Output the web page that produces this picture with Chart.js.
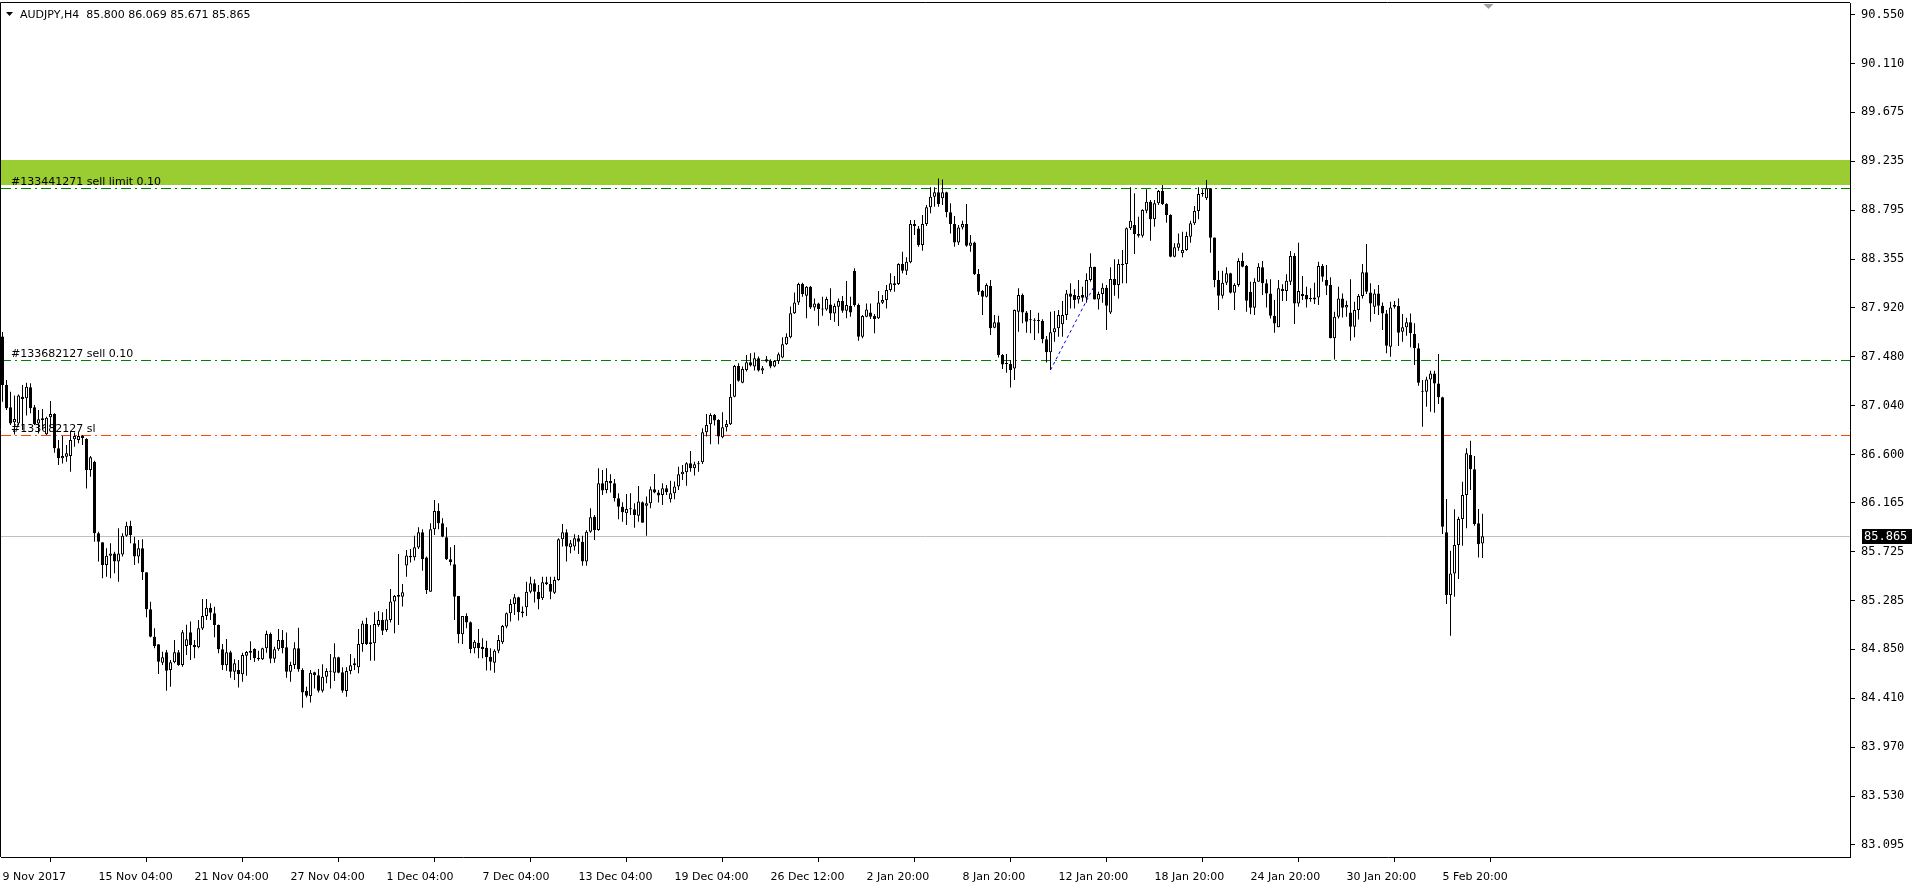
<!DOCTYPE html>
<html>
<head>
<meta charset="utf-8">
<title>AUDJPY,H4</title>
<script src="https://cdn.jsdelivr.net/npm/chart.js@4.4.1/dist/chart.umd.min.js"></script>
<style>
    html, body { margin: 0; padding: 0; background: #ffffff; overflow: hidden; }
    canvas { display: block; }
</style>
</head>
<body>
<canvas id="myCandleChart" width="1920" height="890"></canvas>
<script>
// Title line of the chart window
var symbolTitle = 'AUDJPY,H4  85.800 86.069 85.671 85.865';

// Time axis labels, one every 24 bars (H4)
var xTickLabels = ['9 Nov 2017', '15 Nov 04:00', '21 Nov 04:00', '27 Nov 04:00', '1 Dec 04:00', '7 Dec 04:00',
    '13 Dec 04:00', '19 Dec 04:00', '26 Dec 12:00', '2 Jan 20:00', '8 Jan 20:00', '12 Jan 20:00',
    '18 Jan 20:00', '24 Jan 20:00', '30 Jan 20:00', '5 Feb 20:00'];
var xTickStep = 24;

// Price axis labels
var yTickValues = [90.550, 90.110, 89.675, 89.235, 88.795, 88.355, 87.920, 87.480, 87.040,
    86.600, 86.165, 85.725, 85.285, 84.850, 84.410, 83.970, 83.530, 83.095];

// OHLC
var opens = [
    87.660, 87.225, 87.024, 86.890, 86.880, 87.120, 87.105, 87.204, 87.024, 86.880,
    86.925, 86.782, 86.934, 86.964, 86.656, 86.566, 86.581, 86.587, 86.737, 86.731,
    86.767, 86.740, 86.461, 86.536, 85.892, 85.811, 85.608, 85.691, 85.712, 85.638,
    85.703, 85.871, 85.961, 85.802, 85.683, 85.757, 85.542, 85.209, 84.964, 84.895,
    84.730, 84.823, 84.664, 84.733, 84.823, 84.709, 84.880, 85.003, 84.889, 84.868,
    85.038, 85.149, 85.224, 85.173, 85.068, 84.850, 84.706, 84.823, 84.649, 84.664,
    84.625, 84.793, 84.820, 84.853, 84.775, 84.760, 84.859, 84.988, 84.766, 84.850,
    84.933, 84.868, 84.649, 84.709, 84.859, 84.664, 84.475, 84.430, 84.643, 84.616,
    84.478, 84.604, 84.649, 84.640, 84.778, 84.643, 84.475, 84.655, 84.706, 84.688,
    84.898, 85.077, 84.913, 84.904, 85.068, 85.113, 85.023, 85.114, 85.279, 85.338,
    85.323, 85.602, 85.689, 85.677, 85.764, 85.901, 85.674, 85.368, 85.928, 86.093,
    85.982, 85.856, 85.659, 85.614, 85.329, 84.985, 85.150, 85.093, 84.859, 84.910,
    84.874, 84.865, 84.784, 84.730, 84.838, 84.913, 85.054, 85.174, 85.258, 85.317,
    85.189, 85.228, 85.368, 85.443, 85.368, 85.308, 85.452, 85.437, 85.359, 85.473,
    85.838, 85.901, 85.767, 85.773, 85.847, 85.817, 85.640, 85.907, 86.042, 85.922,
    86.341, 86.282, 86.362, 86.341, 86.207, 86.132, 86.072, 86.108, 86.108, 86.051,
    86.171, 86.141, 86.162, 86.288, 86.258, 86.237, 86.297, 86.198, 86.252, 86.312,
    86.422, 86.440, 86.521, 86.476, 86.521, 86.530, 86.800, 86.872, 86.956, 86.910,
    86.755, 86.845, 86.872, 87.120, 87.396, 87.246, 87.360, 87.429, 87.390, 87.465,
    87.354, 87.456, 87.441, 87.390, 87.441, 87.471, 87.590, 87.653, 87.869, 87.965,
    88.132, 88.027, 88.108, 87.922, 87.958, 87.913, 87.904, 87.949, 87.868, 87.928,
    87.979, 87.892, 87.934, 88.249, 87.943, 87.659, 87.839, 87.877, 87.845, 87.824,
    87.964, 87.988, 88.078, 88.138, 88.132, 88.312, 88.252, 88.327, 88.671, 88.632,
    88.482, 88.671, 88.821, 88.917, 88.956, 88.902, 88.956, 88.776, 88.671, 88.506,
    88.641, 88.671, 88.476, 88.506, 88.222, 88.069, 88.018, 88.114, 87.740, 87.788,
    87.494, 87.413, 87.413, 87.374, 87.883, 88.033, 87.877, 87.806, 87.803, 87.800,
    87.800, 87.635, 87.518, 87.698, 87.734, 87.770, 87.853, 88.048, 88.033, 87.994,
    88.033, 88.009, 88.168, 88.288, 87.994, 88.042, 88.099, 87.877, 88.177, 88.123,
    88.303, 88.312, 88.633, 88.662, 88.581, 88.566, 88.791, 88.872, 88.713, 88.857,
    88.968, 88.851, 88.752, 88.378, 88.459, 88.408, 88.438, 88.557, 88.677, 88.788,
    88.941, 88.902, 88.992, 88.551, 88.168, 88.027, 88.144, 88.228, 88.054, 88.123,
    88.339, 88.294, 88.063, 87.920, 88.153, 88.282, 88.138, 88.048, 87.847, 87.743,
    88.087, 88.069, 88.153, 88.384, 87.958, 88.042, 88.033, 87.997, 87.994, 88.012,
    88.294, 88.168, 88.123, 87.644, 87.839, 88.003, 87.922, 87.877, 87.749, 87.898,
    88.024, 88.237, 88.057, 87.928, 88.048, 87.937, 87.868, 87.569, 87.928, 87.934,
    87.704, 87.743, 87.788, 87.683, 87.554, 87.165, 87.165, 87.275, 87.329, 87.239,
    87.114, 85.901, 85.338, 85.532, 85.787, 86.020, 86.236, 86.596, 86.467, 85.982,
    85.800
];
var highs = [
    87.700, 87.270, 87.165, 87.130, 87.140, 87.225, 87.246, 87.240, 87.045, 87.000,
    87.009, 86.940, 87.081, 86.970, 86.730, 86.767, 86.686, 86.806, 86.797, 86.806,
    86.776, 86.746, 86.587, 86.545, 85.907, 85.811, 85.757, 85.802, 85.727, 85.937,
    85.892, 85.997, 86.006, 85.862, 85.832, 85.838, 85.542, 85.278, 85.039, 84.895,
    84.829, 84.844, 84.754, 84.934, 84.844, 85.024, 85.070, 85.099, 84.934, 85.114,
    85.302, 85.302, 85.263, 85.233, 85.074, 84.898, 84.942, 84.838, 84.760, 84.754,
    84.820, 84.835, 84.922, 84.859, 84.838, 84.865, 85.017, 85.000, 84.874, 85.032,
    85.023, 85.002, 84.739, 84.913, 85.044, 84.679, 84.514, 84.664, 84.649, 84.673,
    84.715, 84.679, 84.808, 84.904, 84.784, 84.688, 84.688, 84.808, 84.769, 85.032,
    85.107, 85.134, 85.068, 85.182, 85.194, 85.182, 85.212, 85.392, 85.338, 85.707,
    85.437, 85.743, 85.752, 85.871, 85.946, 85.928, 85.683, 85.982, 86.192, 86.162,
    86.027, 85.946, 85.767, 85.788, 85.329, 85.150, 85.174, 85.099, 84.934, 85.033,
    84.949, 84.928, 84.859, 84.850, 84.979, 85.069, 85.180, 85.300, 85.347, 85.323,
    85.234, 85.458, 85.503, 85.479, 85.428, 85.503, 85.503, 85.503, 85.503, 85.847,
    85.976, 85.928, 85.832, 85.883, 85.877, 85.870, 85.920, 86.117, 86.057, 86.476,
    86.461, 86.476, 86.422, 86.381, 86.252, 86.171, 86.246, 86.252, 86.162, 86.318,
    86.177, 86.222, 86.312, 86.425, 86.282, 86.341, 86.327, 86.365, 86.357, 86.491,
    86.506, 86.530, 86.632, 86.536, 86.542, 86.836, 86.965, 86.970, 86.965, 86.916,
    86.979, 86.910, 87.234, 87.405, 87.420, 87.390, 87.495, 87.510, 87.516, 87.480,
    87.396, 87.486, 87.456, 87.450, 87.516, 87.653, 87.689, 87.929, 88.055, 88.144,
    88.144, 88.114, 88.114, 88.003, 87.964, 88.018, 88.018, 88.093, 87.958, 88.003,
    88.024, 88.159, 88.018, 88.273, 87.958, 87.853, 87.958, 87.958, 87.863, 88.069,
    88.033, 88.123, 88.228, 88.204, 88.318, 88.423, 88.372, 88.707, 88.707, 88.653,
    88.752, 88.842, 89.001, 89.001, 89.081, 89.072, 88.962, 88.857, 88.743, 88.662,
    88.701, 88.851, 88.572, 88.512, 88.267, 88.078, 88.138, 88.168, 87.854, 87.848,
    87.503, 87.503, 87.449, 87.904, 88.093, 88.048, 87.889, 87.898, 87.824, 87.874,
    87.815, 87.665, 87.883, 87.889, 87.898, 87.979, 88.078, 88.138, 88.084, 88.168,
    88.108, 88.228, 88.408, 88.288, 88.063, 88.138, 88.123, 88.282, 88.354, 88.354,
    88.438, 88.641, 89.001, 88.947, 88.737, 88.803, 88.983, 88.887, 88.887, 88.977,
    89.021, 88.857, 88.758, 88.498, 88.587, 88.602, 88.602, 88.701, 88.833, 89.001,
    88.983, 89.066, 88.992, 88.551, 88.252, 88.252, 88.282, 88.234, 88.138, 88.363,
    88.414, 88.303, 88.153, 88.183, 88.318, 88.339, 88.174, 88.174, 87.988, 88.168,
    88.129, 88.219, 88.429, 88.408, 88.503, 88.204, 88.108, 88.093, 88.144, 88.333,
    88.312, 88.303, 88.192, 87.883, 88.108, 88.048, 87.982, 88.174, 87.973, 88.042,
    88.312, 88.491, 88.138, 88.084, 88.123, 87.967, 87.898, 87.973, 87.979, 88.003,
    87.862, 87.830, 87.868, 87.779, 87.599, 87.269, 87.299, 87.353, 87.353, 87.503,
    87.120, 86.200, 85.736, 86.108, 86.041, 86.356, 86.656, 86.724, 86.587, 86.110,
    86.069
];
var lows = [
    87.075, 87.000, 86.865, 86.780, 86.860, 86.820, 86.950, 86.970, 86.866, 86.790,
    86.820, 86.775, 86.850, 86.617, 86.506, 86.520, 86.536, 86.446, 86.671, 86.701,
    86.686, 86.296, 86.401, 85.817, 85.638, 85.488, 85.503, 85.488, 85.533, 85.458,
    85.683, 85.862, 85.802, 85.608, 85.623, 85.473, 85.137, 84.958, 84.859, 84.628,
    84.709, 84.478, 84.514, 84.724, 84.703, 84.694, 84.800, 84.754, 84.769, 84.859,
    85.023, 85.113, 85.113, 84.958, 84.814, 84.664, 84.658, 84.595, 84.574, 84.508,
    84.559, 84.613, 84.754, 84.736, 84.748, 84.754, 84.820, 84.724, 84.730, 84.838,
    84.814, 84.595, 84.559, 84.673, 84.649, 84.325, 84.418, 84.373, 84.499, 84.463,
    84.463, 84.544, 84.499, 84.565, 84.634, 84.460, 84.424, 84.625, 84.664, 84.634,
    84.829, 84.889, 84.748, 84.748, 85.053, 84.978, 85.008, 85.090, 84.994, 85.069,
    85.234, 85.503, 85.629, 85.647, 85.752, 85.557, 85.347, 85.368, 85.877, 85.928,
    85.856, 85.653, 85.602, 85.114, 84.904, 84.898, 85.039, 84.814, 84.814, 84.769,
    84.769, 84.659, 84.659, 84.640, 84.814, 84.898, 85.039, 85.099, 85.159, 85.108,
    85.138, 85.150, 85.353, 85.270, 85.210, 85.293, 85.428, 85.299, 85.347, 85.467,
    85.773, 85.638, 85.713, 85.737, 85.707, 85.600, 85.600, 85.898, 85.832, 85.916,
    86.237, 86.252, 86.258, 86.177, 86.018, 85.997, 85.967, 86.057, 85.943, 85.997,
    85.988, 85.871, 86.117, 86.252, 86.168, 86.147, 86.237, 86.168, 86.198, 86.282,
    86.372, 86.320, 86.446, 86.411, 86.446, 86.515, 86.761, 86.692, 86.860, 86.692,
    86.746, 86.806, 86.866, 87.114, 87.255, 87.240, 87.345, 87.390, 87.354, 87.345,
    87.324, 87.426, 87.375, 87.384, 87.414, 87.465, 87.584, 87.644, 87.863, 87.944,
    88.018, 87.824, 87.907, 87.892, 87.758, 87.848, 87.892, 87.808, 87.794, 87.755,
    87.874, 87.824, 87.839, 87.928, 87.623, 87.644, 87.833, 87.818, 87.689, 87.818,
    87.952, 87.913, 88.063, 88.063, 88.123, 88.228, 88.213, 88.318, 88.572, 88.467,
    88.432, 88.653, 88.767, 88.827, 88.827, 88.842, 88.731, 88.587, 88.467, 88.482,
    88.623, 88.467, 88.422, 88.213, 88.033, 87.854, 88.012, 87.674, 87.734, 87.473,
    87.368, 87.335, 87.203, 87.269, 87.704, 87.779, 87.695, 87.689, 87.629, 87.689,
    87.599, 87.428, 87.360, 87.614, 87.659, 87.659, 87.808, 87.913, 87.913, 87.958,
    87.973, 87.964, 88.153, 87.994, 87.904, 87.964, 87.719, 87.862, 88.027, 88.003,
    88.138, 88.138, 88.617, 88.401, 88.551, 88.551, 88.767, 88.521, 88.647, 88.842,
    88.842, 88.683, 88.372, 88.372, 88.432, 88.372, 88.432, 88.503, 88.662, 88.713,
    88.917, 88.887, 88.413, 88.102, 87.898, 88.003, 88.123, 88.048, 87.898, 88.108,
    88.282, 87.883, 87.860, 87.853, 88.153, 88.033, 87.922, 87.823, 87.695, 87.743,
    87.979, 87.979, 88.123, 87.772, 87.928, 87.988, 87.922, 87.973, 87.952, 87.943,
    88.153, 88.033, 87.644, 87.455, 87.823, 87.832, 87.838, 87.623, 87.653, 87.814,
    88.003, 88.042, 87.794, 87.862, 87.853, 87.719, 87.509, 87.479, 87.913, 87.575,
    87.614, 87.668, 87.563, 87.404, 87.219, 86.850, 87.030, 86.985, 86.976, 87.054,
    85.886, 85.257, 84.972, 85.323, 85.482, 85.781, 85.937, 86.281, 85.961, 85.676,
    85.671
];
var closes = [
    87.225, 87.015, 86.880, 86.920, 87.130, 87.100, 87.210, 87.015, 86.875, 86.916,
    86.910, 86.930, 86.964, 86.656, 86.566, 86.587, 86.611, 86.731, 86.767, 86.767,
    86.746, 86.461, 86.575, 85.892, 85.817, 85.608, 85.691, 85.712, 85.638, 85.712,
    85.871, 85.961, 85.877, 85.683, 85.757, 85.542, 85.209, 84.964, 84.880, 84.739,
    84.778, 84.658, 84.733, 84.823, 84.709, 85.003, 84.940, 84.889, 84.868, 85.039,
    85.149, 85.224, 85.179, 85.068, 84.850, 84.706, 84.823, 84.649, 84.724, 84.625,
    84.799, 84.826, 84.838, 84.769, 84.760, 84.859, 84.988, 84.766, 84.850, 84.933,
    84.859, 84.649, 84.709, 84.859, 84.670, 84.463, 84.433, 84.640, 84.616, 84.478,
    84.604, 84.655, 84.652, 84.778, 84.640, 84.478, 84.655, 84.706, 84.724, 84.898,
    85.083, 84.898, 84.898, 85.077, 85.113, 85.017, 85.119, 85.279, 85.329, 85.323,
    85.362, 85.692, 85.677, 85.767, 85.901, 85.662, 85.383, 85.928, 86.093, 85.982,
    85.862, 85.659, 85.632, 85.323, 84.985, 85.150, 85.090, 84.853, 84.919, 84.859,
    84.853, 84.778, 84.739, 84.838, 84.934, 85.060, 85.174, 85.258, 85.317, 85.183,
    85.174, 85.368, 85.443, 85.368, 85.299, 85.452, 85.437, 85.368, 85.473, 85.838,
    85.901, 85.773, 85.802, 85.847, 85.817, 85.640, 85.907, 86.036, 85.922, 86.341,
    86.276, 86.362, 86.341, 86.207, 86.132, 86.081, 86.111, 86.111, 86.057, 86.177,
    85.988, 86.162, 86.288, 86.258, 86.231, 86.297, 86.261, 86.252, 86.312, 86.422,
    86.446, 86.521, 86.476, 86.512, 86.512, 86.800, 86.866, 86.956, 86.905, 86.761,
    86.845, 86.875, 87.120, 87.396, 87.264, 87.369, 87.429, 87.399, 87.465, 87.354,
    87.375, 87.435, 87.390, 87.441, 87.501, 87.590, 87.659, 87.869, 87.965, 88.132,
    88.042, 88.108, 87.922, 87.958, 87.907, 87.904, 87.997, 87.868, 87.934, 87.979,
    87.892, 87.943, 87.877, 87.943, 87.659, 87.845, 87.904, 87.839, 87.818, 87.967,
    87.988, 88.078, 88.138, 88.123, 88.312, 88.252, 88.333, 88.671, 88.653, 88.482,
    88.671, 88.821, 88.917, 88.956, 88.851, 88.956, 88.776, 88.671, 88.506, 88.641,
    88.671, 88.476, 88.506, 88.222, 88.063, 88.018, 88.123, 87.734, 87.788, 87.494,
    87.410, 87.419, 87.359, 87.898, 88.033, 87.877, 87.794, 87.812, 87.806, 87.803,
    87.635, 87.518, 87.698, 87.734, 87.853, 87.853, 88.048, 88.018, 87.988, 88.024,
    88.009, 88.168, 88.288, 87.994, 88.042, 88.099, 87.937, 88.177, 88.123, 88.312,
    88.312, 88.633, 88.701, 88.581, 88.566, 88.797, 88.872, 88.713, 88.857, 88.968,
    88.851, 88.752, 88.378, 88.462, 88.498, 88.438, 88.563, 88.677, 88.788, 88.941,
    88.944, 88.992, 88.548, 88.168, 88.027, 88.144, 88.228, 88.054, 88.123, 88.339,
    88.288, 87.982, 87.920, 88.153, 88.288, 88.138, 88.048, 87.847, 87.778, 88.093,
    88.069, 88.162, 88.384, 87.958, 88.069, 88.024, 87.994, 88.000, 88.012, 88.294,
    88.198, 88.117, 87.644, 87.839, 88.003, 87.919, 87.943, 87.749, 87.898, 88.024,
    88.237, 88.063, 87.958, 88.048, 87.937, 87.868, 87.578, 87.922, 87.943, 87.695,
    87.743, 87.788, 87.689, 87.554, 87.245, 87.168, 87.275, 87.329, 87.239, 87.114,
    85.952, 85.338, 85.532, 85.787, 86.020, 86.236, 86.611, 86.467, 85.976, 85.793,
    85.865
];

// Chart objects: supply zone, pending/open orders, trend line
var zoneTop = 89.246;
var zoneBottom = 89.021;
var orderPrices = [88.992, 87.447, 86.773];
var orderTexts = ['#133441271 sell limit 0.10', '#133682127 sell 0.10', '#133682127 sl'];
var trendBars = [262, 273];
var trendPrices = [87.36, 88.12];

var barsOnScreen = 462.25; // MT4 keeps an empty shift area on the right
var lastPrice = closes[closes.length - 1];

var ctx = document.getElementById('myCandleChart');
var priceFont = '12px "DejaVu Sans Mono"';
var textFont = '11px "DejaVu Sans"';

Chart.defaults.font.family = '"DejaVu Sans"';
Chart.defaults.font.size = 11;
Chart.defaults.color = '#000000';

function linePx(chart, price) {
    return Math.round(chart.scales.y.getPixelForValue(price)) + 0.5;
}

var mtDecor = {
    id: 'mtDecor',
    beforeDatasetsDraw: function(chart) {
        var c = chart.ctx, a = chart.chartArea;
        c.save();
        c.beginPath();
        c.rect(a.left, a.top, a.right - a.left, a.bottom - a.top);
        c.clip();

        // supply zone
        var zt = Math.round(chart.scales.y.getPixelForValue(zoneTop));
        var zb = Math.round(chart.scales.y.getPixelForValue(zoneBottom));
        c.fillStyle = '#9ACD32';
        c.fillRect(a.left, zt, a.right - a.left, zb - zt);

        // current bid line
        var py = linePx(chart, lastPrice);
        c.strokeStyle = '#C0C0C0';
        c.lineWidth = 1;
        c.beginPath();
        c.moveTo(a.left, py);
        c.lineTo(a.right, py);
        c.stroke();

        // order lines
        var lineColors = ['#008000', '#008000', '#FF4500'];
        c.setLineDash([10, 4, 2, 4]);
        orderPrices.forEach(function(p, k) {
            var y = linePx(chart, p);
            c.strokeStyle = lineColors[k];
            c.beginPath();
            c.moveTo(a.left, y);
            c.lineTo(a.right, y);
            c.stroke();
        });
        c.setLineDash([]);

        c.font = textFont;
        c.fillStyle = '#000000';
        c.textBaseline = 'bottom';
        c.textAlign = 'left';
        orderPrices.forEach(function(p, k) {
            c.fillText(orderTexts[k], 11, linePx(chart, p) - 1);
        });
        c.restore();
    },
    afterDraw: function(chart) {
        var c = chart.ctx, a = chart.chartArea;
        c.save();
        // frame: top and left sides
        c.strokeStyle = '#000000';
        c.lineWidth = 1;
        c.beginPath();
        c.moveTo(a.left - 0.5, a.bottom);
        c.lineTo(a.left - 0.5, a.top - 0.5);
        c.lineTo(a.right, a.top - 0.5);
        c.stroke();

        // title
        c.fillStyle = '#000000';
        c.beginPath();
        c.moveTo(6, 12);
        c.lineTo(13, 12);
        c.lineTo(9.5, 16);
        c.closePath();
        c.fill();
        c.font = textFont;
        c.textBaseline = 'middle';
        c.textAlign = 'left';
        c.fillText(symbolTitle, 20, 15);

        // chart shift marker
        var sx = chart.scales.x.getPixelForValue(opens.length + 0.5);
        c.fillStyle = '#A0A0A0';
        c.beginPath();
        c.moveTo(sx - 5, a.top + 1);
        c.lineTo(sx + 5, a.top + 1);
        c.lineTo(sx, a.top + 6);
        c.closePath();
        c.fill();

        // bid price box on the price axis
        var by = Math.round(chart.scales.y.getPixelForValue(lastPrice));
        c.fillStyle = '#000000';
        c.fillRect(a.right + 12, by - 7, 50, 15);
        c.fillStyle = '#ffffff';
        c.font = priceFont;
        c.textBaseline = 'middle';
        c.fillText(lastPrice.toFixed(3), a.right + 14, by + 1);
        c.restore();
    }
};

var candleIdx = opens.map(function(v, i) { return i; });
var wickData = candleIdx.map(function(i) { return { x: i, y: [lows[i], highs[i]] }; });
var bodyData = candleIdx.map(function(i) {
    return { x: i, y: [Math.min(opens[i], closes[i]), Math.max(opens[i], closes[i])] };
});
var bodyFill = candleIdx.map(function(i) { return closes[i] >= opens[i] ? '#ffffff' : '#000000'; });
var trendData = trendBars.map(function(b, k) { return { x: b, y: trendPrices[k] }; });

var myCandleChart = new Chart(ctx.getContext('2d'), {
    type: 'bar',
    data: {
        datasets: [{
            label: 'Body',
            data: bodyData,
            backgroundColor: bodyFill,
            borderColor: '#000000',
            borderWidth: 1,
            borderSkipped: false,
            barThickness: 3,
            minBarLength: 1,
            grouped: false,
            inflateAmount: 0,
            order: 1
        }, {
            label: 'Wick',
            data: wickData,
            backgroundColor: '#000000',
            borderWidth: 0,
            barThickness: 1,
            grouped: false,
            inflateAmount: 0,
            order: 2
        }, {
            type: 'line',
            label: 'Trend',
            data: trendData,
            borderColor: '#0000FF',
            borderWidth: 1,
            borderDash: [3, 3],
            pointRadius: 0,
            fill: false,
            order: 0
        }]
    },
    options: {
        responsive: false,
        animation: false,
        devicePixelRatio: 1,
        layout: {
            padding: { left: 1, top: 3, right: 0, bottom: 0 }
        },
        scales: {
            x: {
                type: 'linear',
                min: -0.375,
                max: barsOnScreen - 0.375,
                offset: false,
                afterBuildTicks: function(scale) {
                    scale.ticks = xTickLabels.map(function(t, k) { return { value: k * xTickStep }; });
                },
                afterFit: function(scale) {
                    scale.height = 33;
                    scale.paddingLeft = 0;
                    scale.paddingRight = 0;
                },
                grid: {
                    drawOnChartArea: false,
                    drawTicks: true,
                    tickLength: 5,
                    color: '#000000'
                },
                border: { display: true, color: '#000000' },
                ticks: {
                    autoSkip: false,
                    maxRotation: 0,
                    align: 'start',
                    padding: 9,
                    font: { family: '"DejaVu Sans"', size: 11 },
                    callback: function(value) {
                        return xTickLabels[Math.round(value / xTickStep)];
                    }
                }
            },
            y: {
                type: 'linear',
                position: 'right',
                min: 82.984,
                max: 90.657,
                afterBuildTicks: function(scale) {
                    scale.ticks = yTickValues.map(function(v) { return { value: v }; });
                },
                afterFit: function(scale) {
                    scale.width = 70;
                    scale.paddingTop = 0;
                    scale.paddingBottom = 0;
                },
                grid: {
                    drawOnChartArea: false,
                    drawTicks: true,
                    tickLength: 5,
                    color: '#000000'
                },
                border: { display: true, color: '#000000' },
                ticks: {
                    padding: 6,
                    font: { family: '"DejaVu Sans Mono"', size: 12 },
                    callback: function(value) {
                        return Number(value).toFixed(3);
                    }
                }
            }
        },
        plugins: {
            legend: { display: false },
            tooltip: { enabled: false }
        }
    },
    plugins: [mtDecor]
});
</script>
</body>
</html>
